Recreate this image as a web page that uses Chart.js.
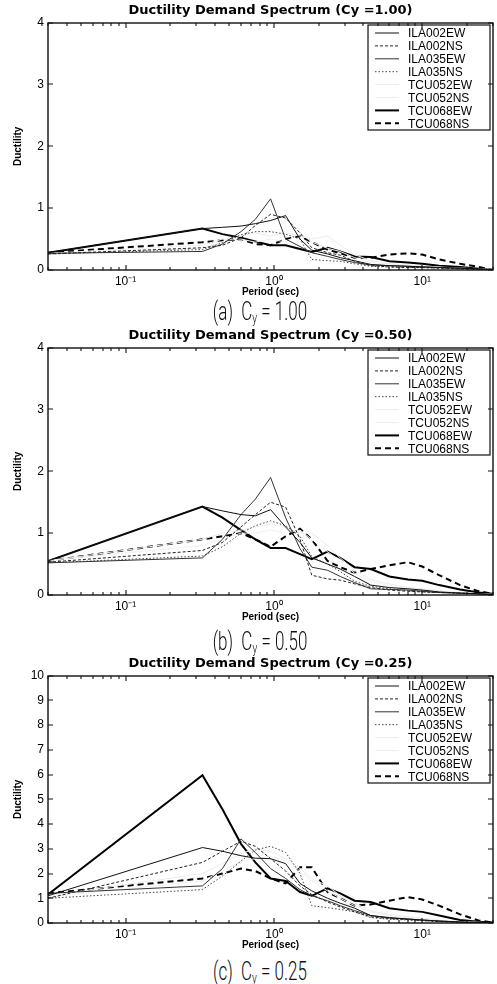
<!DOCTYPE html>
<html>
<head>
<meta charset="utf-8">
<script src="https://cdn.jsdelivr.net/npm/chart.js@4.4.0/dist/chart.umd.min.js"></script>
<style>
  html, body { margin: 0; padding: 0; background: #fff; }
  body { width: 497px; height: 984px; position: relative; overflow: hidden; }
  canvas { position: absolute; left: 0; }
  .cap {
    position: absolute; left: 260px; transform: translate(-50%, -50%) scaleX(0.68);
    font-family: Roboto, "Liberation Sans", sans-serif; font-weight: 300; font-size: 25px;
    color: #111; white-space: nowrap;
  }
  .cap sub { font-size: 15px; vertical-align: -3px; }
</style>
</head>
<body>
<canvas id="c1" width="497" height="300" style="top:0px"></canvas>
<canvas id="c2" width="497" height="300" style="top:325px"></canvas>
<canvas id="c3" width="497" height="300" style="top:653px"></canvas>
<div class="cap" style="top:312px">(a)&nbsp; C<sub>y</sub> = 1.00</div>
<div class="cap" style="top:642px">(b)&nbsp; C<sub>y</sub> = 0.50</div>
<div class="cap" style="top:972px">(c)&nbsp; C<sub>y</sub> = 0.25</div>
<script>
// periods (sec) where the spectra are sampled
const periods = [0.03, 0.33, 0.45, 0.6, 0.75, 0.95, 1.2, 1.5, 1.8, 2.3, 2.8, 3.5, 4.5, 6, 8, 10, 13, 18, 24, 30];
const seriesNames = ['ILA002EW', 'ILA002NS', 'ILA035EW', 'ILA035NS', 'TCU052EW', 'TCU052NS', 'TCU068EW', 'TCU068NS'];

// Cy = 1.00
const c100_ILA002EW = [0.28, 0.67, 0.69, 0.71, 0.75, 0.80, 0.88, 0.50, 0.32, 0.26, 0.20, 0.15, 0.09, 0.07, 0.06, 0.05, 0.04, 0.03, 0.02, 0.01];
const c100_ILA002NS = [0.26, 0.36, 0.40, 0.52, 0.72, 0.90, 0.84, 0.60, 0.36, 0.28, 0.24, 0.14, 0.07, 0.05, 0.04, 0.04, 0.03, 0.02, 0.01, 0.00];
const c100_ILA035EW = [0.27, 0.30, 0.42, 0.62, 0.82, 1.15, 0.50, 0.38, 0.28, 0.22, 0.17, 0.12, 0.08, 0.07, 0.06, 0.05, 0.04, 0.03, 0.02, 0.00];
const c100_ILA035NS = [0.26, 0.33, 0.44, 0.57, 0.62, 0.62, 0.58, 0.50, 0.17, 0.15, 0.14, 0.10, 0.06, 0.05, 0.04, 0.04, 0.03, 0.02, 0.01, 0.00];
const c100_TCU052EW = [0.25, 0.35, 0.45, 0.55, 0.60, 0.55, 0.60, 0.55, 0.50, 0.55, 0.40, 0.25, 0.15, 0.10, 0.08, 0.06, 0.05, 0.03, 0.02, 0.01];
const c100_TCU052NS = [0.27, 0.40, 0.50, 0.50, 0.45, 0.50, 0.45, 0.60, 0.45, 0.35, 0.30, 0.20, 0.12, 0.10, 0.08, 0.06, 0.04, 0.03, 0.02, 0.01];
const c100_TCU068EW = [0.28, 0.67, 0.58, 0.52, 0.46, 0.40, 0.40, 0.34, 0.29, 0.36, 0.30, 0.22, 0.21, 0.14, 0.12, 0.10, 0.07, 0.05, 0.02, 0.00];
const c100_TCU068NS = [0.28, 0.45, 0.48, 0.50, 0.42, 0.40, 0.50, 0.55, 0.45, 0.33, 0.27, 0.20, 0.20, 0.25, 0.27, 0.25, 0.17, 0.10, 0.05, 0.00];

// Cy = 0.50
const c050_ILA002EW = [0.55, 1.43, 1.36, 1.30, 1.28, 1.38, 1.10, 0.85, 0.60, 0.50, 0.42, 0.30, 0.16, 0.12, 0.10, 0.08, 0.05, 0.03, 0.02, 0.01];
const c050_ILA002NS = [0.53, 0.72, 0.85, 1.10, 1.30, 1.50, 1.42, 0.90, 0.32, 0.26, 0.24, 0.18, 0.12, 0.08, 0.06, 0.05, 0.04, 0.03, 0.02, 0.00];
const c050_ILA035EW = [0.52, 0.60, 0.90, 1.30, 1.55, 1.90, 1.25, 0.75, 0.45, 0.40, 0.30, 0.20, 0.10, 0.09, 0.08, 0.06, 0.04, 0.03, 0.02, 0.00];
const c050_ILA035NS = [0.52, 0.63, 0.78, 1.00, 1.12, 1.20, 1.12, 0.95, 0.62, 0.50, 0.38, 0.22, 0.14, 0.10, 0.07, 0.05, 0.04, 0.03, 0.02, 0.00];
const c050_TCU052EW = [0.55, 0.90, 1.00, 1.05, 1.10, 1.15, 1.10, 1.00, 1.00, 0.80, 0.60, 0.40, 0.25, 0.18, 0.12, 0.10, 0.07, 0.04, 0.02, 0.01];
const c050_TCU052NS = [0.56, 0.80, 0.90, 1.00, 1.00, 1.05, 1.00, 1.05, 0.90, 0.70, 0.55, 0.35, 0.22, 0.15, 0.10, 0.08, 0.06, 0.04, 0.02, 0.01];
const c050_TCU068EW = [0.55, 1.43, 1.25, 1.05, 0.90, 0.76, 0.76, 0.66, 0.58, 0.70, 0.60, 0.45, 0.42, 0.30, 0.25, 0.23, 0.16, 0.09, 0.04, 0.02];
const c050_TCU068NS = [0.55, 0.90, 0.95, 1.00, 0.90, 0.78, 0.95, 1.07, 0.90, 0.55, 0.45, 0.36, 0.42, 0.48, 0.53, 0.46, 0.32, 0.16, 0.06, 0.02];

// Cy = 0.25
const c025_ILA002EW = [1.10, 3.05, 2.90, 2.72, 2.62, 2.60, 2.40, 1.60, 1.30, 1.00, 0.80, 0.60, 0.30, 0.22, 0.16, 0.12, 0.08, 0.04, 0.02, 0.01];
const c025_ILA002NS = [1.00, 2.45, 2.90, 3.30, 3.10, 2.60, 2.10, 1.50, 1.15, 0.85, 0.65, 0.45, 0.25, 0.18, 0.14, 0.10, 0.06, 0.03, 0.02, 0.00];
const c025_ILA035EW = [1.20, 1.50, 2.20, 3.40, 2.85, 2.20, 1.80, 1.35, 1.10, 0.90, 0.70, 0.50, 0.30, 0.20, 0.16, 0.12, 0.08, 0.04, 0.02, 0.00];
const c025_ILA035NS = [1.00, 1.35, 1.90, 2.50, 2.95, 3.10, 2.85, 2.00, 0.70, 0.62, 0.55, 0.45, 0.22, 0.15, 0.12, 0.09, 0.06, 0.03, 0.02, 0.00];
const c025_TCU052EW = [1.10, 2.00, 2.40, 2.80, 3.00, 2.90, 2.60, 2.20, 1.80, 1.50, 1.10, 0.80, 0.50, 0.35, 0.25, 0.20, 0.12, 0.06, 0.03, 0.01];
const c025_TCU052NS = [1.05, 1.70, 2.10, 2.50, 2.60, 2.70, 2.50, 2.10, 1.70, 1.30, 1.00, 0.70, 0.45, 0.30, 0.20, 0.15, 0.10, 0.05, 0.02, 0.01];
const c025_TCU068EW = [1.15, 5.97, 4.60, 3.20, 2.45, 1.80, 1.70, 1.25, 1.10, 1.40, 1.20, 0.90, 0.85, 0.60, 0.50, 0.45, 0.30, 0.12, 0.05, 0.02];
const c025_TCU068NS = [1.20, 1.80, 2.00, 2.20, 2.10, 1.80, 1.60, 2.25, 2.25, 1.25, 1.00, 0.70, 0.75, 0.90, 1.05, 0.95, 0.70, 0.35, 0.10, 0.02];

// axis ticks
const xTicks = [0.03, 0.04, 0.05, 0.06, 0.07, 0.08, 0.09, 0.1, 0.2, 0.3, 0.4, 0.5, 0.6, 0.7, 0.8, 0.9,
                1, 2, 3, 4, 5, 6, 7, 8, 9, 10, 20, 30];
const xMajorTicks = [0.1, 1, 10];
const xMajorLabels = ['10⁻¹', '10⁰', '10¹'];

// line look per station
const lineStyles = [
  { color: '#111', width: 1, dash: [] },
  { color: '#222', width: 1, dash: [3, 2] },
  { color: '#333', width: 1, dash: [] },
  { color: '#444', width: 1, dash: [1.5, 2] },
  { color: '#ececec', width: 1, dash: [] },
  { color: '#f0f0f0', width: 1, dash: [] },
  { color: '#000', width: 2, dash: [] },
  { color: '#000', width: 2, dash: [6, 4] }
];

const FONT = '"Liberation Sans", Arial, sans-serif';

// axes box with inward ticks (matlab look), drawn from the scales
function drawFrame(chart) {
  const ctx = chart.ctx;
  const x = chart.scales.x, y = chart.scales.y;
  const L = Math.round(x.left), R = Math.round(x.right);
  const T = Math.round(y.top), B = Math.round(y.bottom);
  ctx.save();
  ctx.setLineDash([]);
  ctx.strokeStyle = '#111';
  ctx.lineWidth = 1.4;
  ctx.strokeRect(L, T, R - L, B - T);
  ctx.lineWidth = 1.1;
  ctx.beginPath();
  x.ticks.forEach(t => {
    const px = Math.round(x.getPixelForValue(t.value));
    const len = xMajorTicks.indexOf(t.value) >= 0 ? 5 : 3;
    ctx.moveTo(px, B); ctx.lineTo(px, B - len);
    ctx.moveTo(px, T); ctx.lineTo(px, T + len);
  });
  y.ticks.forEach(t => {
    const py = Math.round(y.getPixelForValue(t.value));
    ctx.moveTo(L, py); ctx.lineTo(L + 5, py);
    ctx.moveTo(R, py); ctx.lineTo(R - 5, py);
  });
  ctx.stroke();
  ctx.restore();
}

// legend box, top right inside the axes
function drawLegend(chart) {
  const ctx = chart.ctx;
  const a = chart.chartArea;
  const bw = 122, bh = 105, rowH = 12.9;
  const bx = Math.round(a.right - 3 - bw), by = Math.round(a.top + 2);
  ctx.save();
  ctx.fillStyle = '#fff';
  ctx.fillRect(bx, by, bw, bh);
  ctx.lineWidth = 1.2;
  ctx.strokeStyle = '#111';
  ctx.setLineDash([]);
  ctx.strokeRect(bx, by, bw, bh);
  ctx.font = '12px ' + FONT;
  ctx.textBaseline = 'middle';
  ctx.textAlign = 'left';
  chart.data.datasets.forEach((ds, i) => {
    const cy = by + 8 + i * rowH;
    ctx.beginPath();
    ctx.strokeStyle = ds.borderColor;
    ctx.lineWidth = ds.borderWidth;
    ctx.setLineDash(ds.borderDash || []);
    ctx.moveTo(bx + 7, cy); ctx.lineTo(bx + 31, cy);
    ctx.stroke();
    ctx.setLineDash([]);
    ctx.fillStyle = '#000';
    ctx.fillText(ds.label, bx + 40, cy + 1);
  });
  ctx.restore();
}

const frameAndLegend = {
  id: 'frameAndLegend',
  afterDraw(chart) {
    drawLegend(chart);
    drawFrame(chart);
  }
};

function makeChart(id, title, series, yMax) {
  const datasets = seriesNames.map((name, i) => ({
    label: name,
    data: periods.map((p, k) => ({ x: p, y: series[i][k] })),
    borderColor: lineStyles[i].color,
    borderWidth: lineStyles[i].width,
    borderDash: lineStyles[i].dash,
    pointRadius: 0,
    tension: 0,
    fill: false
  }));
  return new Chart(document.getElementById(id), {
    type: 'line',
    data: { datasets },
    options: {
      responsive: false,
      animation: false,
      layout: { padding: { left: 0, right: 4, top: 0, bottom: 0 } },
      plugins: {
        legend: { display: false },
        tooltip: { enabled: false },
        title: {
          display: true, text: title, color: '#000', fullSize: false,
          font: { family: '"DejaVu Sans", ' + FONT, size: 13, weight: 'bold' },
          padding: { top: 3, bottom: 4 }
        }
      },
      scales: {
        x: {
          type: 'logarithmic', min: 0.03, max: 30,
          afterBuildTicks: s => { s.ticks = xTicks.map(v => ({ value: v })); },
          afterFit: s => { s.height = 30; },
          grid: { display: false, drawTicks: false, tickLength: 0 },
          border: { display: false },
          ticks: {
            autoSkip: false, maxRotation: 0, padding: 4, color: '#000',
            font: { family: FONT, size: 12 },
            callback: v => { const k = xMajorTicks.indexOf(v); return k >= 0 ? xMajorLabels[k] : ''; }
          },
          title: {
            display: true, text: 'Period (sec)', color: '#000',
            font: { family: FONT, size: 10, weight: 'bold' },
            padding: { top: 0, bottom: 2 }
          }
        },
        y: {
          min: 0, max: yMax,
          afterFit: s => { s.width = 48; },
          grid: { display: false, drawTicks: false, tickLength: 0 },
          border: { display: false },
          ticks: { stepSize: 1, padding: 4, color: '#000', font: { family: FONT, size: 12 } },
          title: {
            display: true, text: 'Ductility', color: '#000',
            font: { family: FONT, size: 10, weight: 'bold' },
            padding: { top: 12, bottom: 0 }
          }
        }
      }
    },
    plugins: [frameAndLegend]
  });
}

makeChart('c1', 'Ductility Demand Spectrum (Cy =1.00)',
  [c100_ILA002EW, c100_ILA002NS, c100_ILA035EW, c100_ILA035NS, c100_TCU052EW, c100_TCU052NS, c100_TCU068EW, c100_TCU068NS], 4);
makeChart('c2', 'Ductility Demand Spectrum (Cy =0.50)',
  [c050_ILA002EW, c050_ILA002NS, c050_ILA035EW, c050_ILA035NS, c050_TCU052EW, c050_TCU052NS, c050_TCU068EW, c050_TCU068NS], 4);
makeChart('c3', 'Ductility Demand Spectrum (Cy =0.25)',
  [c025_ILA002EW, c025_ILA002NS, c025_ILA035EW, c025_ILA035NS, c025_TCU052EW, c025_TCU052NS, c025_TCU068EW, c025_TCU068NS], 10);
</script>
</body>
</html>
